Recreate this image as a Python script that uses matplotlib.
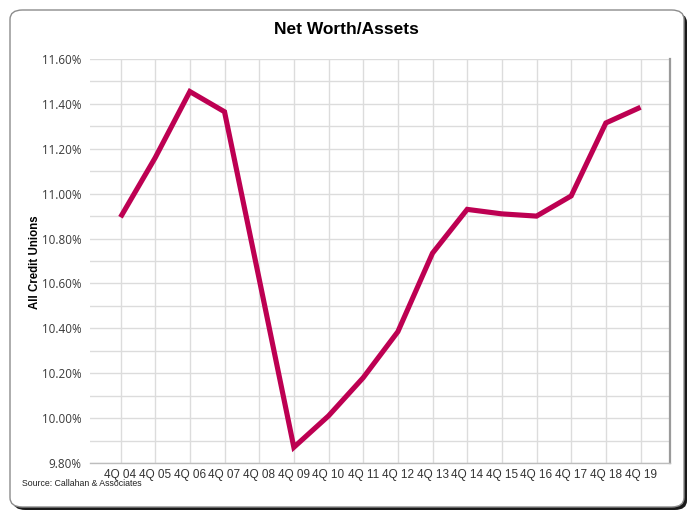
import matplotlib
matplotlib.use("Agg")
import matplotlib.pyplot as plt
from matplotlib.patches import FancyBboxPatch
from matplotlib.ticker import FuncFormatter, MultipleLocator

categories = ["4Q 04", "4Q 05", "4Q 06", "4Q 07", "4Q 08", "4Q 09", "4Q 10", "4Q 11",
              "4Q 12", "4Q 13", "4Q 14", "4Q 15", "4Q 16", "4Q 17", "4Q 18", "4Q 19"]
net_worth_pct = [10.895, 11.16, 11.455, 11.365, 10.62, 9.87, 10.01, 10.18,
                 10.385, 10.735, 10.93, 10.91, 10.90, 10.99, 11.315, 11.385]
y_ticks = [9.80, 10.00, 10.20, 10.40, 10.60, 10.80, 11.00, 11.20, 11.40, 11.60]

W, H = 692, 519
fig = plt.figure(figsize=(W / 100, H / 100), dpi=100)
fig.patch.set_facecolor("white")

# frame with shadow
shadow = FancyBboxPatch((13 / W, 1 - 510 / H), 674 / W, 497 / H,
                        boxstyle="round,pad=0,rounding_size=0.018",
                        transform=fig.transFigure, facecolor="#1a1a1a",
                        edgecolor="none", zorder=0)
fig.patches.append(shadow)
frame = FancyBboxPatch((10 / W, 1 - 507 / H), 674 / W, 497 / H,
                       boxstyle="round,pad=0,rounding_size=0.018",
                       transform=fig.transFigure, facecolor="white",
                       edgecolor="#8c8c8c", linewidth=1.0, zorder=1)
fig.patches.append(frame)

ax = fig.add_axes([90 / W, 1 - 463 / H, 580 / W, 404 / H])
ax.set_facecolor("none")
ax.set_zorder(2)

x = list(range(len(categories)))
ax.plot(x, net_worth_pct, color="#BD0052", linewidth=3.7,
        solid_joinstyle="miter", solid_capstyle="butt", zorder=3)

ax.set_xlim(-0.88, 15.85)
ax.set_ylim(9.80, 11.60)
ax.set_yticks(y_ticks)
ax.yaxis.set_minor_locator(MultipleLocator(0.1))
ax.yaxis.set_major_formatter(FuncFormatter(lambda v, p: f"{v:.2f}%"))
ax.set_xticks(x)
ax.set_xticklabels(categories, family=["Liberation Sans", "DejaVu Sans"],
                   fontsize=8.5, color="#333333")
for lab in ax.get_yticklabels():
    lab.set_family(["Open Sans", "DejaVu Sans"])
    lab.set_fontsize(8.4)
    lab.set_color("#3a3a3a")

ax.grid(True, which="both", axis="y", color="#dcdcdc", linewidth=1.0, zorder=1)
ax.grid(True, which="major", axis="x", color="#dcdcdc", linewidth=1.0, zorder=1)
ax.tick_params(axis="both", which="both", length=0)
ax.tick_params(axis="y", pad=6)
ax.tick_params(axis="x", pad=4)

for s in ["left", "top"]:
    ax.spines[s].set_visible(False)
ax.spines["right"].set_color("#9a9a9a")
ax.spines["right"].set_linewidth(1.6)
ax.spines["bottom"].set_color("#bdbdbd")
ax.spines["bottom"].set_linewidth(1.0)

fig.text(346 / W, 1 - 30 / H, "Net Worth/Assets", ha="center", va="center",
         fontsize=12.5, fontweight="bold", family=["Liberation Sans", "DejaVu Sans"],
         color="black")
fig.text(35 / W, 1 - 262 / H, "All Credit Unions", ha="center", va="center",
         rotation=90, fontsize=8.3, fontweight="bold",
         family=["Liberation Sans", "DejaVu Sans"], color="black")
fig.text(22 / W, 1 - 484 / H, "Source: Callahan & Associates", ha="left", va="center",
         fontsize=6.3, family=["Liberation Sans", "DejaVu Sans"], color="#222222")

fig.savefig("out.png", dpi=100)
